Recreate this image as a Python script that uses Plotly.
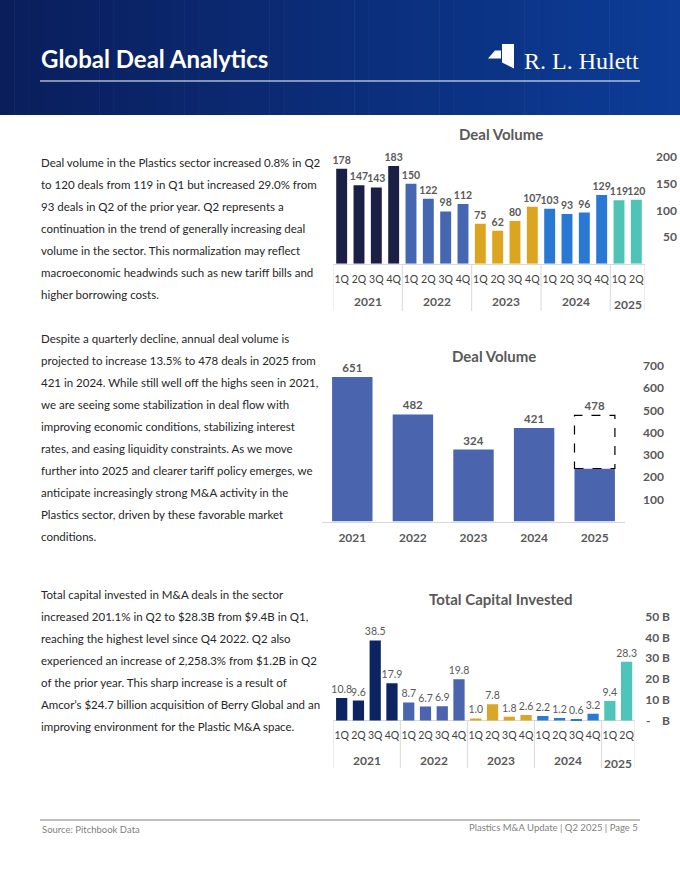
import plotly.graph_objects as go

W, H = 680, 880


def X(px):
    return px / W


def Y(py):
    return 1 - py / H


# ---------------- data ----------------
years = ["2021", "2022", "2023", "2024", "2025"]
quarters_per_year = [4, 4, 4, 4, 2]
quarter_labels = ["1Q", "2Q", "3Q", "4Q", "1Q", "2Q", "3Q", "4Q", "1Q", "2Q", "3Q", "4Q",
                  "1Q", "2Q", "3Q", "4Q", "1Q", "2Q"]
deal_volume_q = [178, 147, 143, 183, 150, 122, 98, 112, 75, 62, 80, 107, 103, 93, 96, 129, 119, 120]
annual_years = ["2021", "2022", "2023", "2024", "2025"]
annual_volume = [651, 482, 324, 421, 239]
annual_projected = [651, 482, 324, 421, 478]
capital_q = [10.8, 9.6, 38.5, 17.9, 8.7, 6.7, 6.9, 19.8, 1.0, 7.8, 1.8, 2.6, 2.2, 1.2, 0.6, 3.2, 9.4, 28.3]
vol_ticks = [50, 100, 150, 200]
annual_ticks = [100, 200, 300, 400, 500, 600, 700]
cap_ticks = [0, 10, 20, 30, 40, 50]
cap_ticktext = ["-    B", "10 B", "20 B", "30 B", "40 B", "50 B"]

# ---------------- styles ----------------
FONT = "Lato, 'Open Sans', sans-serif"
GRAY = "#595959"
year_colors_1 = ["#1b1f45", "#4566b0", "#dba520", "#2878d4", "#4fc4b6"]
year_colors_3 = ["#0c2462", "#4a65ad", "#d9a62a", "#2a7ad1", "#4ec5b8"]
annual_color = "#4a65ad"
LIGHT = "#d9d9d9"

colors1, colors3 = [], []
for c1, c3, n in zip(year_colors_1, year_colors_3, quarters_per_year):
    colors1 += [c1] * n
    colors3 += [c3] * n

idx = list(range(len(quarter_labels)))

fig = go.Figure()

# Chart 1: quarterly deal volume
fig.add_trace(go.Bar(
    x=idx, y=deal_volume_q, marker=dict(color=colors1, line=dict(width=0)), width=0.63,
    text=[str(v) for v in deal_volume_q], textposition="outside", cliponaxis=False,
    constraintext="none",
    textfont=dict(family=FONT, size=10.5, color=GRAY, weight="bold"),
    xaxis="x", yaxis="y", hoverinfo="skip", showlegend=False))

# Chart 2: annual deal volume
fig.add_trace(go.Bar(
    x=annual_years, y=annual_volume, marker=dict(color=annual_color, line=dict(width=0)), width=0.667,
    text=[str(v) if v == p else "" for v, p in zip(annual_volume, annual_projected)],
    textposition="outside", cliponaxis=False, constraintext="none",
    textfont=dict(family=FONT, size=11.5, color=GRAY, weight="bold"),
    xaxis="x2", yaxis="y2", hoverinfo="skip", showlegend=False))
proj_x = [yr for yr, v, p in zip(annual_years, annual_volume, annual_projected) if p > v]
proj_base = [v for v, p in zip(annual_volume, annual_projected) if p > v]
proj_h = [p - v for v, p in zip(annual_volume, annual_projected) if p > v]
proj_t = [str(p) for v, p in zip(annual_volume, annual_projected) if p > v]
fig.add_trace(go.Bar(
    x=proj_x, y=proj_h, base=proj_base, marker=dict(color="white", line=dict(width=0)), width=0.667,
    text=proj_t, textposition="outside", cliponaxis=False, constraintext="none",
    textfont=dict(family=FONT, size=11.5, color=GRAY, weight="bold"),
    xaxis="x2", yaxis="y2", hoverinfo="skip", showlegend=False))

# Chart 3: total capital invested
fig.add_trace(go.Bar(
    x=idx, y=capital_q, marker=dict(color=colors3, line=dict(width=0)), width=0.67,
    text=[f"{v:.1f}" for v in capital_q], textposition="outside", cliponaxis=False,
    constraintext="none",
    textfont=dict(family=FONT, size=10.5, color=GRAY),
    xaxis="x3", yaxis="y3", hoverinfo="skip", showlegend=False))

n = len(quarter_labels)
common_x = dict(tickmode="array", tickvals=idx, ticktext=quarter_labels, range=[-0.5, n - 0.5],
                tickangle=0, showgrid=False, zeroline=False,
                tickfont=dict(family=FONT, size=10.5, color="#404040"), fixedrange=True)

fig.update_layout(
    width=W, height=H, margin=dict(l=0, r=0, t=0, b=0),
    paper_bgcolor="white", plot_bgcolor="rgba(0,0,0,0)",
    barmode="overlay", font=dict(family=FONT),
    xaxis=dict(domain=[X(333), X(645)], anchor="y", showline=True, linecolor=LIGHT, linewidth=1,
               ticks="outside", ticklen=6, tickcolor="rgba(0,0,0,0)", **common_x),
    yaxis=dict(domain=[Y(263.7), Y(143.7)], range=[0, 225], anchor="free", position=1.0, side="right",
               tickmode="array", tickvals=vol_ticks, ticklabelposition="inside", ticks="",
               showgrid=False, zeroline=False, showline=False,
               tickfont=dict(family=FONT, size=12, color=GRAY, weight="bold")),
    xaxis2=dict(domain=[X(322), X(625)], anchor="y2", showline=True, linecolor=LIGHT, linewidth=1,
                type="category", ticks="outside", ticklen=5, tickcolor="rgba(0,0,0,0)", tickangle=0,
                showgrid=False, zeroline=False,
                tickfont=dict(family=FONT, size=12, color=GRAY, weight="bold")),
    yaxis2=dict(domain=[Y(521.6), Y(354.9)], range=[0, 750], anchor="free", position=X(667), side="right",
                tickmode="array", tickvals=annual_ticks, ticklabelposition="inside", ticks="",
                showgrid=False, zeroline=False, showline=False,
                tickfont=dict(family=FONT, size=12, color=GRAY, weight="bold")),
    xaxis3=dict(domain=[X(333.3), X(635)], anchor="y3", showline=False, ticks="", **common_x),
    yaxis3=dict(domain=[Y(727.8), Y(604.1)], range=[-3.5, 56], anchor="free", position=X(673), side="right",
                tickmode="array", tickvals=cap_ticks, ticktext=cap_ticktext, ticklabelposition="inside",
                ticks="", showgrid=False, zeroline=True, zerolinecolor=LIGHT, zerolinewidth=1, showline=False,
                tickfont=dict(family=FONT, size=12, color=GRAY, weight="bold")),
)

shapes = []
annotations = []

# ---------------- header ----------------
N = 48
c0 = (10, 30, 92)
c1 = (12, 60, 150)
for i in range(N):
    t = i / (N - 1)
    col = tuple(int(round(a + (b - a) * t)) for a, b in zip(c0, c1))
    shapes.append(dict(type="rect", xref="paper", yref="paper",
                       x0=X(W * i / N), x1=X(W * (i + 1) / N + 0.6), y0=Y(115), y1=Y(0),
                       fillcolor="rgb(%d,%d,%d)" % col, line=dict(width=0), layer="below"))
shapes.append(dict(type="line", xref="paper", yref="paper", x0=X(40), x1=X(640), y0=Y(81), y1=Y(81),
                   line=dict(color="white", width=1.2)))


def path(points):
    return "M " + " L ".join("%.5f,%.5f" % (X(a), Y(b)) for a, b in points) + " Z"


# logo mark: left-pointing bar + vertical bar
shapes.append(dict(type="path", xref="paper", yref="paper",
                   path=path([(488, 58.5), (495, 50.5), (501, 50.5), (501, 58.5)]),
                   fillcolor="white", line=dict(width=0)))
shapes.append(dict(type="path", xref="paper", yref="paper",
                   path=path([(502, 44), (514, 44), (514, 68.5), (502, 62.5)]),
                   fillcolor="white", line=dict(width=0)))

annotations.append(dict(text="<b>Global Deal Analytics</b>", x=X(39), y=Y(58), xref="paper", yref="paper",
                        xanchor="left", yanchor="middle", showarrow=False,
                        font=dict(family=FONT, size=24, color="white")))
annotations.append(dict(text="R. L. Hulett", x=X(641), y=Y(61), xref="paper", yref="paper",
                        xanchor="right", yanchor="middle", showarrow=False,
                        font=dict(family="Liberation Serif, DejaVu Serif, serif", size=24, color="white")))

# ---------------- chart titles ----------------
for txt, cx, cy in [("Deal Volume", 500.5, 134), ("Deal Volume", 494, 356), ("Total Capital Invested", 500.5, 599)]:
    annotations.append(dict(text="<b>%s</b>" % txt, x=X(cx), y=Y(cy), xref="paper", yref="paper",
                            xanchor="center", yanchor="middle", showarrow=False,
                            font=dict(family=FONT, size=15, color=GRAY)))

# ---------------- year groups / dividers ----------------
starts = []
s = 0
for k in quarters_per_year:
    starts.append(s)
    s += k
bounds = [st - 0.5 for st in starts] + [s - 0.5]
for xr, top, bot, ylab in [("x", 264, 311, 301), ("x3", 721, 768, 760)]:
    for b in bounds:
        shapes.append(dict(type="line", xref=xr, yref="paper", x0=b, x1=b, y0=Y(bot), y1=Y(top),
                           line=dict(color=LIGHT, width=1)))
    for yr, st, k in zip(years, starts, quarters_per_year):
        yy = ylab + (3 if k < 4 else 0)
        annotations.append(dict(text="<b>%s</b>" % yr, x=st + (k - 1) / 2, y=Y(yy), xref=xr, yref="paper",
                                xanchor="center", yanchor="middle", showarrow=False,
                                font=dict(family=FONT, size=12, color=GRAY)))

# dashed projection outline
for yr, v, p in zip(annual_years, annual_volume, annual_projected):
    if p > v:
        i = annual_years.index(yr)
        shapes.append(dict(type="rect", xref="x2", yref="y2", x0=i - 0.3335, x1=i + 0.3335, y0=v, y1=p,
                           line=dict(color="black", width=1.2, dash="dash"), fillcolor="rgba(0,0,0,0)"))

# ---------------- paragraphs ----------------
para1 = [
    "Deal volume in the Plastics sector increased 0.8% in Q2",
    "to 120 deals from 119 in Q1 but increased 29.0% from",
    "93 deals in Q2 of the prior year. Q2 represents a",
    "continuation in the trend of generally increasing deal",
    "volume in the sector. This normalization may reflect",
    "macroeconomic headwinds such as new tariff bills and",
    "higher borrowing costs.",
]
para2 = [
    "Despite a quarterly decline, annual deal volume is",
    "projected to increase 13.5% to 478 deals in 2025 from",
    "421 in 2024. While still well off the highs seen in 2021,",
    "we are seeing some stabilization in deal flow with",
    "improving economic conditions, stabilizing interest",
    "rates, and easing liquidity constraints. As we move",
    "further into 2025 and clearer tariff policy emerges, we",
    "anticipate increasingly strong M&A activity in the",
    "Plastics sector, driven by these favorable market",
    "conditions.",
]
para3 = [
    "Total capital invested in M&A deals in the sector",
    "increased 201.1% in Q2 to $28.3B from $9.4B in Q1,",
    "reaching the highest level since Q4 2022. Q2 also",
    "experienced an increase of 2,258.3% from $1.2B in Q2",
    "of the prior year. This sharp increase is a result of",
    "Amcor\u2019s $24.7 billion acquisition of Berry Global and an",
    "improving environment for the Plastic M&A space.",
]
for lines, y0 in [(para1, 162.5), (para2, 338.3), (para3, 594.7)]:
    for j, line in enumerate(lines):
        annotations.append(dict(text=line, x=X(39), y=Y(y0 + 22 * j), xref="paper", yref="paper",
                                xanchor="left", yanchor="middle", showarrow=False,
                                font=dict(family=FONT, size=11.5, color="#262626")))

# ---------------- footer ----------------
shapes.append(dict(type="line", xref="paper", yref="paper", x0=X(40), x1=X(640), y0=Y(820), y1=Y(820),
                   line=dict(color="#7f7f7f", width=1)))
annotations.append(dict(text="Source: Pitchbook Data", x=X(40), y=Y(829.5), xref="paper", yref="paper",
                        xanchor="left", yanchor="middle", showarrow=False,
                        font=dict(family=FONT, size=9.5, color="#7f7f7f")))
annotations.append(dict(text="Plastics M&A Update | Q2 2025 | Page 5", x=X(640), y=Y(827.5), xref="paper",
                        yref="paper", xanchor="right", yanchor="middle", showarrow=False,
                        font=dict(family=FONT, size=9.5, color="#7f7f7f")))

fig.update_layout(shapes=shapes, annotations=annotations)
fig.write_html("out.html", config={"displayModeBar": False},
               post_script="document.body.style.margin='0';document.body.style.padding='0';"
                           "document.documentElement.style.overflow='hidden';")
